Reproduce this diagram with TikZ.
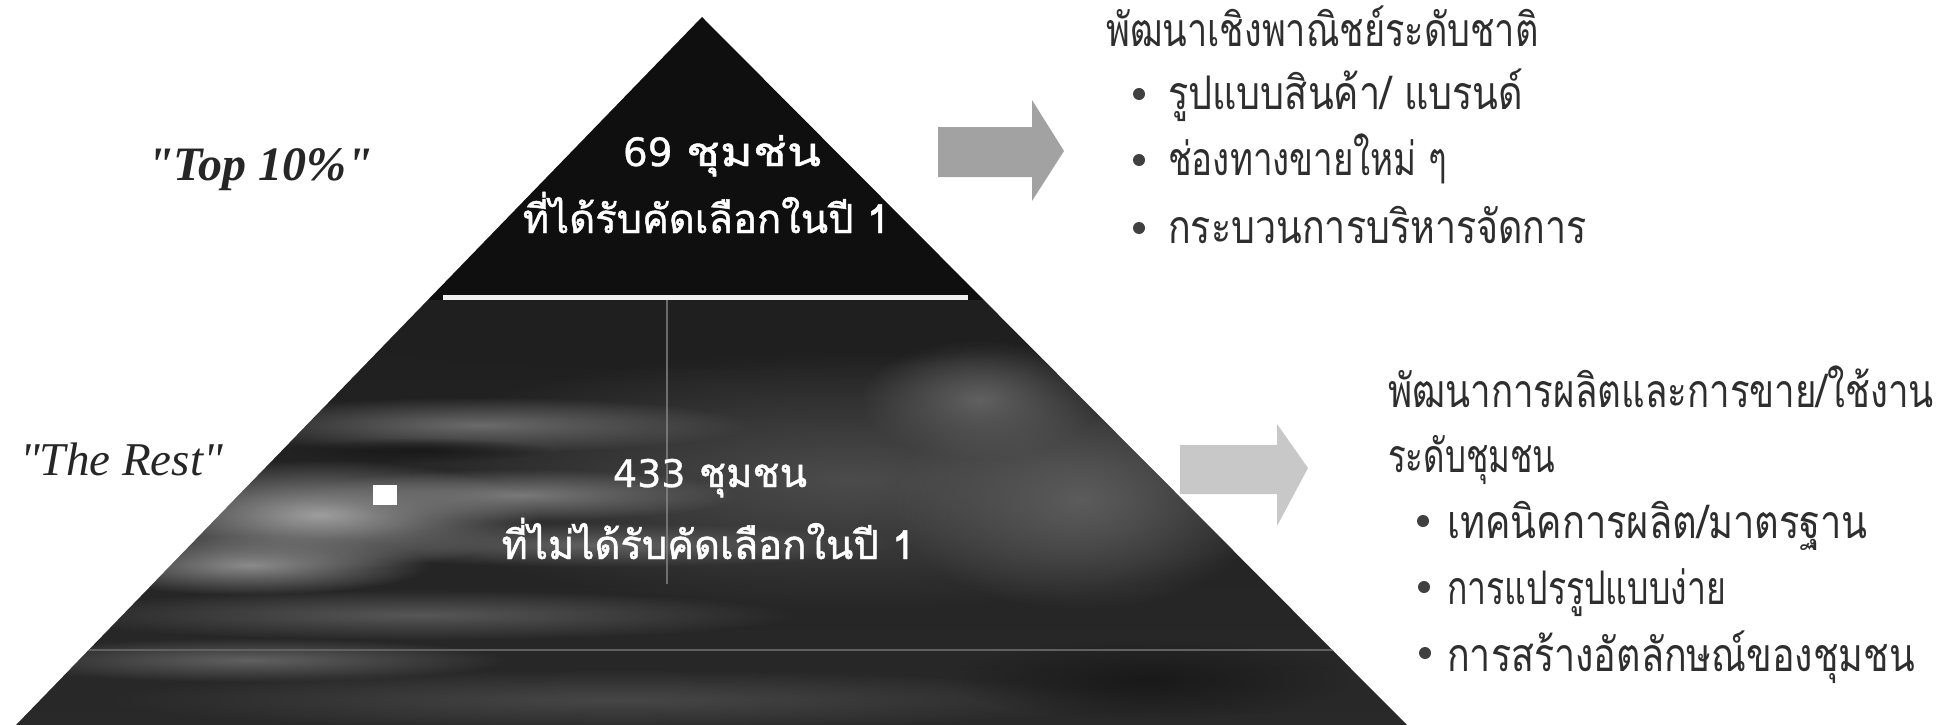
\documentclass[tikz,border=0pt]{standalone}
\usepackage{fontspec}
\setmainfont{Liberation Serif}
\newfontfamily\latinserif{Liberation Serif}
\newfontfamily\thai[Script=Thai]{Loma}
\newfontfamily\thaiheavy[Script=Thai,FakeBold=1.2]{Loma}
\newfontfamily\dejasans[FakeBold=0.8]{DejaVu Sans}
\usetikzlibrary{fadings}
\tikzfading[name=blob, inner color=transparent!0, outer color=transparent!100]
\definecolor{pyrtop}{HTML}{0F0F0F}
\definecolor{txt}{HTML}{2E2E2E}
\definecolor{dotc}{HTML}{404040}
\definecolor{arrowA}{HTML}{A2A2A2}
\definecolor{arrowB}{HTML}{C8C8C8}
\newcommand{\rt}[2]{\scalebox{#1}[1.22]{#2}}
\tikzset{
  rtext/.style={anchor=base west, inner sep=0pt, text=txt, font=\thai\fontsize{38}{40}\selectfont},
  ptext/.style={anchor=base, inner sep=0pt, text=white, font=\thaiheavy\fontsize{40}{42}\selectfont},
  ltext/.style={anchor=base west, inner sep=0pt, text=black!85},
  bulletdot/.style={circle, fill=dotc, inner sep=0pt, minimum size=12pt},
}
\newcommand{\myblob}[4]{\fill[#4, path fading=blob] (#1) ellipse (#2pt and #3pt);}
\begin{document}
\begin{tikzpicture}[x=1pt,y=-1pt]
\useasboundingbox (0,0) rectangle (1948,725);
\fill[white] (0,0) rectangle (1948,725);
% pyramid
\coordinate (apex) at (702,17);
\coordinate (bl) at (16,725);
\coordinate (br) at (1407,725);
\begin{scope}
\clip (apex) -- (bl) -- (br) -- cycle;
\fill[pyrtop] (0,0) rectangle (1948,300);
\shade[top color=black!88, bottom color=black!84] (0,300) rectangle (1948,725);
\myblob{850,480}{480}{130}{black!70}
\myblob{1080,500}{190}{110}{black!64}
\myblob{980,400}{120}{60}{black!62}
\myblob{700,335}{380}{35}{black!88}
\myblob{480,425}{270}{28}{black!58}
\myblob{420,450}{130}{12}{black!90}
\myblob{320,515}{220}{55}{black!38}
\myblob{250,565}{180}{30}{black!45}
\myblob{520,495}{220}{26}{black!52}
\myblob{600,545}{300}{22}{black!62}
\myblob{420,615}{380}{25}{black!66}
\myblob{250,660}{260}{22}{black!62}
\myblob{620,700}{520}{30}{black!72}
\myblob{1150,680}{200}{40}{black!90}
\draw[black!45, line width=1.2pt, opacity=0.7] (667,298) -- (667,584);
\draw[black!62, line width=1.5pt] (0,650) -- (1948,650);
\end{scope}
\fill[white] (373,485) rectangle (397,505);
\draw[white!94!black, line width=5pt] (443,297) coordinate (l1) -- (968,297) coordinate (l2);
% pyramid texts
\node[ptext] (t69) at (722,166) {{\dejasans\fontsize{39}{42}\selectfont 69} \scalebox{1.25}[1]{ชุมช่น}};
\node[ptext] (t69b) at (706,233) {ที่ได้รับคัดเลือกในปี 1};
\node[ptext] (t433) at (710,487) {{\dejasans\fontsize{38}{40}\selectfont 433} ชุมชน};
\node[ptext] (t433b) at (708,559) {ที่ไม่ได้รับคัดเลือกในปี 1};
% left labels
\node[ltext, font=\latinserif\bfseries\itshape\fontsize{48}{50}\selectfont] (top) at (147,180) {"Top 10\%"};
\node[ltext, font=\latinserif\itshape\fontsize{47}{49}\selectfont] (rest) at (20,475) {"The Rest"};
% arrows
\fill[arrowA] (938,127) -- (1032,127) -- (1032,100) -- (1064,151) -- (1032,201) -- (1032,177) -- (938,177) -- cycle;
\fill[arrowB] (1180,445) -- (1277,445) -- (1277,424) -- (1308,468) -- (1277,526) -- (1277,494) -- (1180,494) -- cycle;
% top right block
\node[rtext] (h1) at (1106,47) {\rt{0.95}{พัฒนาเชิงพาณิชย์ระดับชาติ}};
\node[bulletdot] (d1) at (1139,94) {};
\node[rtext] (a1) at (1168,109) {\rt{0.995}{รูปแบบสินค้า/ แบรนด์}};
\node[bulletdot] (d2) at (1139,160) {};
\node[rtext] (a2) at (1168,175) {\rt{0.92}{ช่องทางขายใหม่ ๆ}};
\node[bulletdot] (d3) at (1139,228) {};
\node[rtext] (a3) at (1168,243) {\rt{0.99}{กระบวนการบริหารจัดการ}};
% lower right block
\node[rtext] (h2) at (1388,407) {\rt{0.965}{พัฒนาการผลิตและการขาย/ใช้งาน}};
\node[rtext] (h2b) at (1388,472) {\rt{0.87}{ระดับชุมชน}};
\node[bulletdot] (e1) at (1423,521) {};
\node[rtext] (b1) at (1447,538) {\rt{1.0}{เทคนิคการผลิต/มาตรฐาน}};
\node[bulletdot] (e2) at (1424,587) {};
\node[rtext] (b2) at (1447,604) {\rt{0.89}{การแปรรูปแบบง่าย}};
\node[bulletdot] (e3) at (1425,653) {};
\node[rtext] (b3) at (1447,671) {\rt{0.99}{การสร้างอัตลักษณ์ของชุมชน}};
\end{tikzpicture}
\end{document}
